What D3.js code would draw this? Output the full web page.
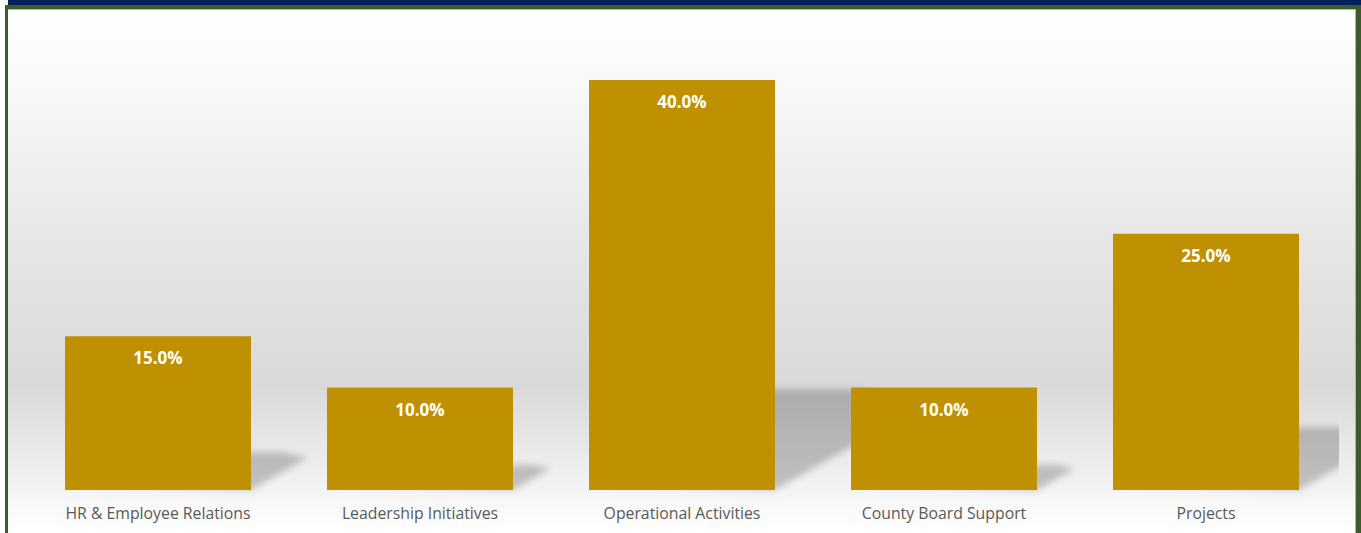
<!DOCTYPE html>
<html>
<head>
<meta charset="utf-8">
<script src="https://cdn.jsdelivr.net/npm/d3@7"></script>
<style>
  body { margin: 0; background: #fff; }
  svg { display: block; }
</style>
</head>
<body>
<div id="chart"></div>
<script>
const categories = ['HR & Employee Relations', 'Leadership Initiatives', 'Operational Activities', 'County Board Support', 'Projects'];
const shares = [15.0, 10.0, 40.0, 10.0, 25.0];

const W = 1361, H = 533;
const baseY = 490, topY = 80; // plot bottom / top of 40%

const svg = d3.select('#chart').append('svg')
    .attr('width', W)
    .attr('height', H);

const defs = svg.append('defs');

// background gradient (white -> grey -> white)
const grad = defs.append('linearGradient')
    .attr('id', 'bg')
    .attr('x1', 0).attr('y1', 0).attr('x2', 0).attr('y2', 1);
[[0, '#ffffff'], [0.1, '#fbfbfb'], [0.45, '#e6e6e6'], [0.72, '#d9d9d9'], [0.86, '#ececec'], [1, '#ffffff']]
    .forEach(s => grad.append('stop').attr('offset', s[0]).attr('stop-color', s[1]));

defs.append('filter')
    .attr('id', 'blur')
    .attr('x', '-20%').attr('y', '-20%').attr('width', '140%').attr('height', '140%')
    .append('feGaussianBlur')
    .attr('stdDeviation', 3.5);

defs.append('clipPath')
    .attr('id', 'plotClip')
    .append('rect')
    .attr('x', 8).attr('y', 10).attr('width', 1331).attr('height', H - 10);

// frame
svg.append('rect').attr('x', 8).attr('y', 0).attr('width', W - 8).attr('height', 5).attr('fill', '#001f5b');
svg.append('rect').attr('x', 5).attr('y', 5).attr('width', W - 5).attr('height', H - 5).attr('fill', '#3c5b2a');
svg.append('rect').attr('x', 8).attr('y', 9).attr('width', 1348).attr('height', H - 9).attr('fill', '#a9b9a3');
svg.append('rect').attr('x', 8).attr('y', 10).attr('width', 1347).attr('height', H - 10).attr('fill', 'url(#bg)');

// scales
const x = d3.scaleBand()
    .domain(categories)
    .range([27, 1337])
    .paddingInner(76 / 262)
    .paddingOuter(38 / 262);

const y = d3.scaleLinear()
    .domain([0, 40])
    .range([baseY, topY]);

const plot = svg.append('g').attr('clip-path', 'url(#plotClip)');

// perspective shadows
plot.append('g')
    .selectAll('path')
    .data(shares)
    .join('path')
    .attr('d', (d, i) => {
        const x0 = x(categories[i]) + 12, x1 = x(categories[i]) + x.bandwidth();
        const h = y(0) - y(d);
        const pts = [
            [x0, baseY - 6],
            [x1, baseY],
            [x1 + 0.37 * h, baseY - 0.21 * h],
            [x1 + 0.2 * h, baseY - 0.245 * h],
            [x0, baseY - 0.245 * h]
        ];
        return d3.line()(pts) + 'Z';
    })
    .attr('fill', '#000')
    .attr('fill-opacity', 0.21)
    .attr('filter', 'url(#blur)');

// bars
plot.append('g')
    .selectAll('rect')
    .data(shares)
    .join('rect')
    .attr('x', (d, i) => x(categories[i]))
    .attr('y', d => y(d))
    .attr('width', x.bandwidth())
    .attr('height', d => y(0) - y(d))
    .attr('fill', '#bf9000');

// value labels
svg.append('g')
    .selectAll('text')
    .data(shares)
    .join('text')
    .attr('x', (d, i) => x(categories[i]) + x.bandwidth() / 2)
    .attr('y', d => y(d) + 28)
    .attr('text-anchor', 'middle')
    .attr('font-family', 'Open Sans, sans-serif')
    .attr('font-weight', 'bold')
    .attr('font-size', 17)
    .attr('fill', '#ffffff')
    .text(d => d.toFixed(1) + '%');

// category labels
svg.append('g')
    .selectAll('text')
    .data(categories)
    .join('text')
    .attr('x', d => x(d) + x.bandwidth() / 2)
    .attr('y', 519)
    .attr('text-anchor', 'middle')
    .attr('font-family', 'Open Sans, sans-serif')
    .attr('font-size', 15.8)
    .attr('fill', '#595959')
    .text(d => d);
</script>
</body>
</html>
